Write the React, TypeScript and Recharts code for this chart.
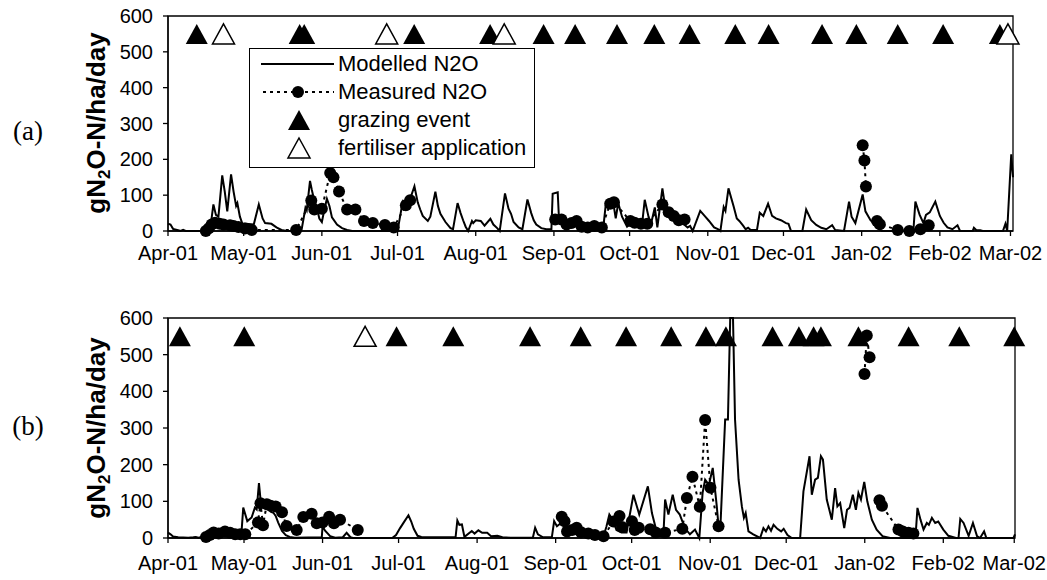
import React from 'react';
import { ComposedChart, Line, Scatter, XAxis, YAxis, ReferenceArea, Legend } from 'recharts';

// days counted from 1 April 2001
const monthTicks = [0, 30, 61, 91, 122, 153, 183, 214, 244, 275, 306, 334];
const monthLabels = ['Apr-01', 'May-01', 'Jun-01', 'Jul-01', 'Aug-01', 'Sep-01', 'Oct-01', 'Nov-01', 'Dec-01', 'Jan-02', 'Feb-02', 'Mar-02'];
const yTicks = [0, 100, 200, 300, 400, 500, 600];
const eventLevel = 550;

// panel (a)
const modelA: [number, number][] = [
  [0, 20], [1, 18], [2, 6], [4, 2], [5, 0], [6, 3], [7, 0], [13, 0], [14, 5], [16, 15], [17, 20], [18, 74], [19, 45], [20, 40],
  [21.5, 155], [22.5, 110], [23.5, 55], [25, 158], [26, 110], [27, 70], [27.5, 78], [28.5, 40], [29.5, 20], [31, 20], [34, 18],
  [36, 74], [37.5, 35], [38.5, 22], [41, 20], [43, 10], [45, 3], [47, 0], [52, 0], [53, 5], [54.5, 65], [55, 58], [56.3, 140],
  [57, 115], [58, 85], [59, 65], [60, 35], [61, 25], [62, 60], [63, 90], [64, 70], [65, 38], [67, 18], [69, 8], [71, 3], [73, 0],
  [91, 0], [91.5, 20], [93, 80], [94, 65], [95, 78], [96, 90], [97.7, 125], [99, 80], [100, 60], [101, 42], [103, 28], [104, 40],
  [106, 110], [107, 70], [108, 48], [110, 25], [112, 8], [113, 5], [114.8, 78], [116, 50], [117, 30], [118, 12], [119, 0],
  [120.5, 28], [121, 22], [122, 30], [124, 28], [125.5, 15], [127.8, 34], [129, 18], [130.5, 8], [131.5, 0], [133.6, 105],
  [135, 62], [136, 48], [137, 25], [139, 10], [140.5, 5], [142.5, 88], [144, 50], [145, 30], [146, 18], [148, 8], [150, 5],
  [152, 5], [152.5, 104], [154.5, 108], [155, 35], [156, 30], [158, 25], [160, 28], [162, 20], [164, 15], [166, 10], [168, 8],
  [170, 5], [172.5, 5], [173.5, 70], [175, 76], [176.5, 80], [177.5, 35], [178.5, 78], [180, 40], [182, 12], [183, 18], [185, 22],
  [187, 20], [188, 22], [189, 87], [190.5, 40], [191.5, 20], [193, 66], [194, 10], [196, 119], [197, 72], [198.5, 55], [201, 40],
  [203.5, 25], [206, 10], [207, 14], [208, 0], [211, 56], [213, 40], [214.5, 28], [216.5, 10], [218, 5], [219, 0], [220.3, 67],
  [221, 56], [222.2, 119], [224.2, 70], [225.5, 35], [226.5, 28], [228, 15], [229, 5], [230, 9], [231, 3], [233.5, 3], [234.6, 51],
  [236, 42], [237.9, 76], [239.5, 42], [241, 35], [243, 30], [245, 22], [246, 20], [247, 0], [251.5, 0], [253, 60], [255, 30],
  [257, 17], [259, 9], [261, 5], [263.3, 16], [264.5, 3], [268, 0], [270, 82], [271, 40], [272.5, 22], [275.4, 102], [276.5, 55],
  [278.5, 30], [280, 20], [282, 5], [283, 0], [295.5, 0], [296.3, 82], [298, 45], [299.5, 22], [300.5, 45], [302, 52], [304.2, 82],
  [306, 42], [307.5, 23], [309, 10], [311, 5], [313, 16], [314, 0], [319, 0], [319.5, 9], [320.5, 2], [322, 2], [323, 0], [331, 0],
  [332, 20], [332.7, 0], [334.3, 214], [335, 150],
];

const measuredA: [number, number | null][] = [
  [15, 0], [16.2, 8], [17.3, 18], [18.7, 23], [20.5, 20], [22, 18], [24.6, 16], [26, 14], [27.9, 11], [30.5, 7], [33.2, 3],
  [50.8, 3], [56.8, 85], [58, 60], [61, 62], [64.3, 162], [65.6, 150], [67.8, 110], [71, 60], [74.3, 60], [77.7, 28], [81.2, 22],
  [86, 17], [89.5, 10], [94.3, 72], [96, 86], [120, null],
  [153.5, 32], [156, 32], [158, 18], [160, 22], [162, 28], [164, 12], [166.4, 10], [169, 14], [172, 10], [175.3, 76], [176.8, 80],
  [183.3, 28], [185, 23], [187.5, 20], [190, 20], [196, 74], [198.5, 52], [200.5, 42], [202.5, 30], [204.8, 32], [240, null],
  [275.4, 239], [276.1, 197], [276.7, 124], [279, null],
  [281.1, 28], [282.2, 19], [289.3, 3], [293.9, 0], [298.3, 5], [301.6, 16],
];

const grazingA = [11.4, 52.2, 54, 97.6, 127.7, 148.9, 161.4, 178, 192.8, 206.8, 224.9, 238.1, 259.3, 272.9, 289.3, 307.3, 329.8];
const fertiliserA = [22, 86.7, 133.3, 333];

// panel (b)
const modelB: [number, number][] = [
  [0, 15], [1, 10], [2, 4], [4, 2], [8, 1], [10, 2], [11, 3], [12, 1], [14, 4], [16, 6], [18, 5], [20, 8], [22, 6], [24, 8], [26, 5],
  [28, 6], [29, 14], [29.7, 83], [31.3, 46], [33, 56], [34.3, 83], [35, 78], [35.9, 150], [36.5, 106], [37.5, 102], [38.5, 95],
  [39.6, 79], [40.5, 72], [41.6, 69], [42.5, 60], [43.5, 42], [45, 19], [46.5, 8], [48, 3], [50, 1], [60.7, 2], [61, 32], [62, 20],
  [64, 5], [66, 1], [69, 2], [70.5, 14], [72, 2], [73, 0], [88.5, 0], [90, 8], [91.6, 27], [93, 42], [94.9, 62], [96, 45], [97, 25],
  [98.5, 6], [100, 3], [105, 2], [113.5, 2], [114.2, 48], [115, 36], [116, 37], [117, 3], [119.9, 19], [121, 12], [122.5, 21],
  [124, 14], [126, 14], [127.5, 5], [130, 6], [132, 2], [135, 1], [144, 1], [144.9, 28], [146, 10], [148, 2], [151.5, 2],
  [152.4, 46], [153.5, 32], [155, 40], [157, 35], [160, 22], [163, 10], [166, 5], [170, 3], [171.9, 5], [173, 30], [174.2, 64],
  [175.5, 50], [177, 22], [179, 15], [181, 15], [183.7, 118], [186, 64], [189.4, 141], [191, 68], [192.5, 27], [194, 5],
  [195.5, 3], [196.2, 105], [197.5, 64], [199.2, 118], [200.5, 77], [202, 64], [204, 27], [206, 10], [208, 23], [209.7, 0],
  [211, 123], [212, 159], [213.5, 145], [215, 191], [216.6, 86], [217.3, 32], [218, 27], [219.9, 323], [221, 323], [221.9, 600],
  [223, 600], [223.8, 323], [225.2, 159], [226.5, 86], [227.3, 55], [228, 68], [229.1, 18], [231, 10], [233.7, 0], [235, 27],
  [236, 18], [237, 32], [238, 20], [239, 36], [240.5, 25], [242, 18], [243, 25], [244.5, 8], [246.2, 0], [249.5, 0], [250.8, 127],
  [253.2, 223], [254.1, 118], [255.4, 159], [256.5, 164], [257.7, 223], [258.5, 214], [260, 105], [262, 50], [263.3, 136],
  [264.2, 86], [265.3, 95], [266.9, 27], [268, 77], [269, 82], [270.3, 118], [271.5, 77], [272.5, 123], [273.5, 105], [274.8, 153],
  [276, 100], [277.8, 50], [279.7, 23], [282, 5], [285, 0], [295, 0], [295.8, 82], [297, 50], [298.2, 23], [299.5, 41], [300.3, 36],
  [301.5, 55], [302.8, 41], [304, 45], [306, 23], [308, 6], [311, 0], [312, 0], [312.7, 52], [314, 41], [316, 6], [317.7, 41],
  [319.3, 5], [320.5, 0], [322.1, 18], [323, 0], [333.7, 0], [334.3, 10],
];

const measuredB: [number, number | null][] = [
  [15, 3], [16.5, 8], [18, 15], [20, 12], [22.5, 18], [24.5, 14], [26.5, 10], [28.5, 10], [30.5, 10], [35.5, 42], [36.5, 95],
  [37.5, 35], [39, 92], [40.5, 88], [42.5, 86], [45, 70], [46.8, 33], [50.8, 22], [53.4, 57], [56.7, 66], [58.7, 40], [61, 42],
  [63.6, 58], [65.5, 40], [67.9, 50], [74.9, 22], [110, null],
  [155.4, 58], [156.5, 46], [157.5, 18], [159.5, 22], [161.3, 28], [163, 16], [165.9, 12], [168.5, 8], [171.9, 5], [175.8, 45],
  [178.2, 60], [179.2, 30], [183.1, 46], [184.2, 22], [185.8, 28], [190.3, 24], [192.5, 15], [196.2, 14], [203, 25], [204.8, 109],
  [207, 167], [209.9, 85], [212, 322], [214.1, 137], [217.3, 32], [250, null],
  [274.9, 447], [275.8, 552], [276.9, 493], [278.5, null],
  [280.8, 103], [281.8, 88], [288.3, 23], [290, 18], [292.3, 14], [294.2, 12],
];

const grazingB = [4.7, 30.1, 90.2, 112.6, 142.9, 162.9, 180.8, 198.6, 212.3, 220.2, 238.6, 249, 254.8, 257.7, 272.5, 292.3, 312.3, 334];
const fertiliserB = [77.8];

const sans = "'Liberation Sans', Arial, sans-serif";
const serif = "'Liberation Serif', 'Times New Roman', serif";

const toRows = (pts: [number, number | null][]) => pts.map(([day, v]) => ({ day, v }));
const toEvents = (days: number[]) => days.map((day) => ({ day, v: eventLevel }));

const triPoints = (cx: number, cy: number) => `${cx},${cy - 10} ${cx + 11},${cy + 10} ${cx - 11},${cy + 10}`;

const FilledTri = (p: any) => <polygon points={triPoints(p.cx, p.cy)} fill="#000" />;
const OpenTri = (p: any) => <polygon points={triPoints(p.cx, p.cy)} fill="#fff" stroke="#000" strokeWidth={1.5} />;

const renderDot = (p: any) => {
  if (p.cy == null || p.value == null) return <g key={p.key ?? p.index} />;
  return <circle key={p.key ?? p.index} cx={p.cx} cy={p.cy} r={6} fill="#000" />;
};

const LegendBox = () => {
  const rowY = [15, 43, 71, 99];
  return (
    <div style={{ position: 'relative', width: 286, height: 120, border: '1px solid #000', background: '#fff', boxSizing: 'border-box', fontFamily: sans, fontSize: 22, color: '#000' }}>
      <svg width={90} height={118} style={{ position: 'absolute', left: 0, top: 0 }}>
        <line x1={11} x2={84} y1={rowY[0]} y2={rowY[0]} stroke="#000" strokeWidth={2} />
        <line x1={13} x2={84} y1={rowY[1]} y2={rowY[1]} stroke="#000" strokeWidth={2} strokeDasharray="3 4" />
        <circle cx={48} cy={rowY[1]} r={6} fill="#000" />
        <polygon points={triPoints(49, rowY[2])} fill="#000" />
        <polygon points={triPoints(49, rowY[3])} fill="#fff" stroke="#000" strokeWidth={1.5} />
      </svg>
      {['Modelled N2O', 'Measured N2O', 'grazing event', 'fertiliser application'].map((t, i) => (
        <div key={t} style={{ position: 'absolute', left: 88, top: rowY[i] - 13, lineHeight: '26px', whiteSpace: 'nowrap' }}>{t}</div>
      ))}
    </div>
  );
};

interface PanelProps {
  top: number;
  height: number;
  margin: { top: number; right: number; bottom: number; left: number };
  xMax: number;
  tickMargin: number;
  model: [number, number][];
  measured: [number, number | null][];
  grazing: number[];
  fertiliser: number[];
  showLegend?: boolean;
}

const Panel: React.FC<PanelProps> = ({ top, height, margin, xMax, tickMargin, model, measured, grazing, fertiliser, showLegend }) => (
  <div style={{ position: 'absolute', left: 0, top }}>
    <ComposedChart width={1047} height={height} margin={margin}>
      <XAxis
        type="number"
        dataKey="day"
        domain={[0, xMax]}
        ticks={monthTicks}
        interval={0}
        tickFormatter={(d: number) => monthLabels[monthTicks.indexOf(d)]}
        height={40}
        tickSize={5}
        tickMargin={tickMargin}
        stroke="#000"
        strokeWidth={1.3}
        tick={{ fill: '#000', fontSize: 20, fontFamily: sans }}
      />
      <YAxis
        type="number"
        domain={[0, 600]}
        ticks={yTicks}
        interval={0}
        width={60}
        tickSize={5}
        tickMargin={10}
        stroke="#000"
        strokeWidth={1.3}
        tick={{ fill: '#000', fontSize: 20, fontFamily: sans }}
      />
      <ReferenceArea x1={0} x2={xMax} y1={0} y2={600} fill="none" stroke="#000" strokeWidth={1.3} />
      <Line data={toRows(model)} dataKey="v" stroke="#000" strokeWidth={2} dot={false} activeDot={false} isAnimationActive={false} />
      <Line
        data={toRows(measured)}
        dataKey="v"
        stroke="#000"
        strokeWidth={2}
        strokeDasharray="3 4"
        dot={renderDot}
        activeDot={false}
        connectNulls={false}
        isAnimationActive={false}
      />
      <Scatter data={toEvents(grazing)} dataKey="v" shape={FilledTri} isAnimationActive={false} />
      <Scatter data={toEvents(fertiliser)} dataKey="v" shape={OpenTri} isAnimationActive={false} />
      {showLegend && (
        <Legend
          layout="vertical"
          align="center"
          verticalAlign="middle"
          wrapperStyle={{ left: 249, top: 48, width: 286, height: 120 }}
          content={() => <LegendBox />}
        />
      )}
    </ComposedChart>
  </div>
);

const YTitle = ({ x, y }: { x: number; y: number }) => (
  <text x={x} y={y} transform={`rotate(-90 ${x} ${y})`} textAnchor="middle" fontFamily={sans} fontWeight="bold" fontSize={26} fill="#000">
    gN<tspan fontSize={17} dy={5}>2</tspan>
    <tspan dy={-5}>O-N/ha/day</tspan>
  </text>
);

export default function App() {
  return (
    <div style={{ position: 'absolute', left: 0, top: 0, width: 1047, height: 580, background: '#fff', overflow: 'hidden' }}>
      <Panel
        top={0}
        height={290}
        margin={{ top: 16, right: 34, bottom: 19, left: 108 }}
        xMax={335}
        tickMargin={10}
        model={modelA}
        measured={measuredA}
        grazing={grazingA}
        fertiliser={fertiliserA}
        showLegend
      />
      <Panel
        top={300}
        height={280}
        margin={{ top: 18, right: 32, bottom: 2, left: 108 }}
        xMax={334.3}
        tickMargin={13}
        model={modelB}
        measured={measuredB}
        grazing={grazingB}
        fertiliser={fertiliserB}
      />
      <svg width={1047} height={580} style={{ position: 'absolute', left: 0, top: 0, pointerEvents: 'none' }}>
        <YTitle x={105} y={123} />
        <YTitle x={105} y={428} />
        <text x={28} y={140} textAnchor="middle" fontFamily={serif} fontSize={27} fill="#000">(a)</text>
        <text x={28} y={435} textAnchor="middle" fontFamily={serif} fontSize={27} fill="#000">(b)</text>
      </svg>
    </div>
  );
}
